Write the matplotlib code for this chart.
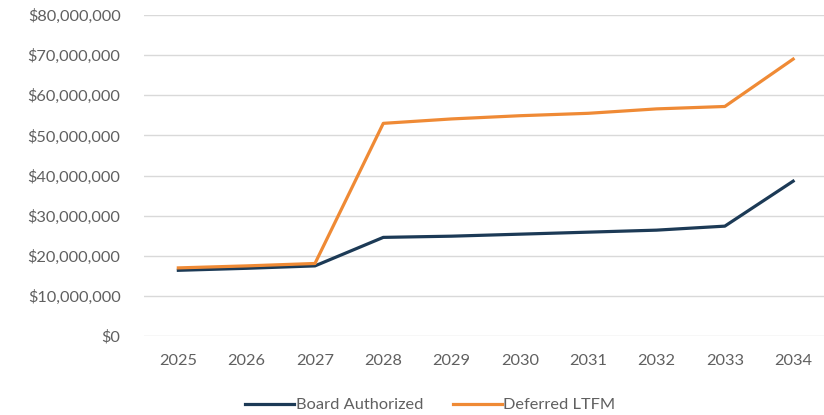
import matplotlib
matplotlib.use("Agg")
import matplotlib.pyplot as plt
from matplotlib.ticker import FuncFormatter

years = ["2025", "2026", "2027", "2028", "2029", "2030", "2031", "2032", "2033", "2034"]
board_authorized = [16.4e6, 16.9e6, 17.5e6, 24.6e6, 24.9e6, 25.4e6, 25.9e6, 26.4e6, 27.4e6, 38.6e6]
deferred_ltfm = [17.0e6, 17.5e6, 18.1e6, 53.0e6, 54.1e6, 54.9e6, 55.5e6, 56.6e6, 57.2e6, 69.0e6]

plt.rcParams['font.family'] = ['Lato', 'DejaVu Sans']
text_grey = '#606060'

fig = plt.figure(figsize=(8.24, 4.15), dpi=100)
ax = fig.add_axes([0.175, 0.19, 0.829, 0.774])

x = range(len(years))
ax.plot(x, board_authorized, color='#1c3a56', lw=2.3, label='Board Authorized',
        solid_joinstyle='round', zorder=3)
ax.plot(x, deferred_ltfm, color='#ef8a35', lw=2.3, label='Deferred LTFM',
        solid_joinstyle='round', zorder=3)

ax.set_xlim(-0.5, len(years) - 0.5)
ax.set_ylim(0, 80e6)
ax.set_yticks(range(0, 80000001, 10000000))
ax.yaxis.set_major_formatter(FuncFormatter(lambda v, p: f"${v:,.0f}"))
ax.set_xticks(list(x))
ax.set_xticklabels(years)

ax.grid(axis='y', color='#d9d9d9', lw=1)
ax.set_axisbelow(True)
for s in ax.spines.values():
    s.set_visible(False)
ax.tick_params(length=0, labelsize=11.8, colors=text_grey)
ax.tick_params(axis='y', pad=17)
ax.tick_params(axis='x', pad=13)

leg = fig.legend(loc='center', bbox_to_anchor=(0.522, 0.024), ncol=2, frameon=False,
                 fontsize=11.8, handlelength=3, handletextpad=0.1, columnspacing=1.8)
for t in leg.get_texts():
    t.set_color(text_grey)

fig.savefig('out.png', dpi=100)
